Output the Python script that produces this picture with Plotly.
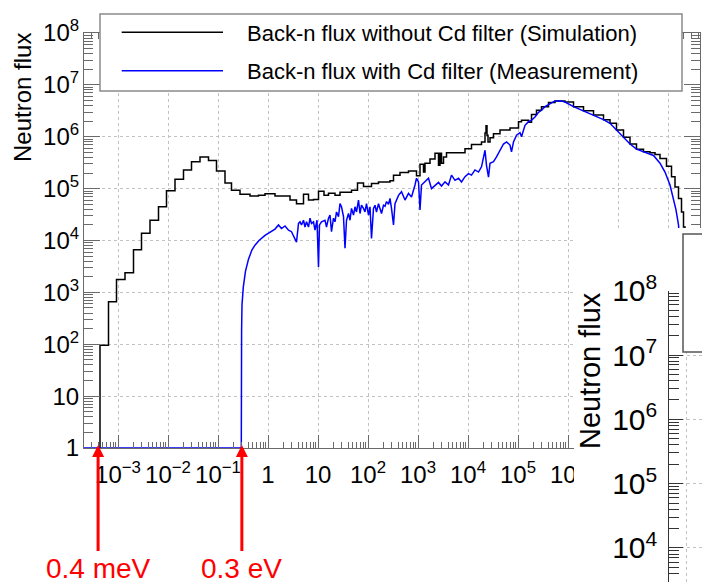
import numpy as np
import plotly.graph_objects as go

W, H = 702, 582
FONT = "Liberation Sans, Arial, Helvetica, sans-serif"

# ---------------- data (values in decades) ----------------
# Simulation histogram, without Cd filter: (log10 E[eV] of bin left edge, log10 flux)
sim_points = [
    (-3.36, 0.00), (-3.36, 1.98), (-3.19, 2.82), (-3.03, 3.25), (-2.86, 3.38), (-2.69, 3.82),
    (-2.53, 4.14), (-2.36, 4.39), (-2.19, 4.65), (-2.03, 4.96), (-1.86, 5.18), (-1.69, 5.36),
    (-1.53, 5.52), (-1.36, 5.61), (-1.19, 5.54), (-1.03, 5.34), (-0.86, 5.11), (-0.73, 4.97),
    (-0.56, 4.89), (-0.36, 4.86), (-0.19, 4.87), (-0.06, 4.90), (0.14, 4.86), (0.44, 4.78),
    (0.57, 4.71), (0.71, 4.89), (0.81, 4.78), (0.91, 4.79), (1.01, 4.95), (1.12, 4.87),
    (1.21, 4.91), (1.34, 4.87), (1.44, 4.93), (1.67, 4.97), (1.79, 5.11), (1.91, 5.04),
    (2.07, 5.10), (2.21, 5.13), (2.44, 5.15), (2.51, 5.26), (2.64, 5.31), (2.81, 5.34),
    (2.97, 5.25), (3.04, 5.47), (3.11, 5.32), (3.14, 5.49), (3.24, 5.57), (3.34, 5.68),
    (3.41, 5.45), (3.44, 5.68), (3.47, 5.49), (3.51, 5.61), (3.57, 5.69), (3.94, 5.77),
    (4.07, 5.85), (4.27, 5.90), (4.34, 6.07), (4.36, 6.21), (4.38, 6.03), (4.40, 5.90),
    (4.44, 5.98), (4.51, 6.06), (4.64, 6.13), (4.84, 6.17), (5.01, 6.29), (5.07, 6.32),
    (5.21, 6.28), (5.27, 6.43), (5.37, 6.51), (5.47, 6.58), (5.61, 6.66), (5.74, 6.69),
    (5.94, 6.67), (6.11, 6.58), (6.31, 6.50), (6.51, 6.42), (6.71, 6.33), (6.84, 6.26),
    (6.97, 6.13), (7.11, 5.99), (7.24, 5.86), (7.37, 5.76), (7.51, 5.71), (7.64, 5.69),
    (7.74, 5.66), (7.84, 5.58), (7.97, 5.43), (8.07, 5.23), (8.14, 5.03), (8.21, 4.81),
    (8.27, 4.55), (8.31, 4.26), (8.34, 3.82), (8.38, 2.85),
]

# Measurement with Cd filter: (log10 E[eV], log10 flux)
meas_points = [
    (-3.68, 0.00), (-0.534, 0.00), (-0.528, 2.27), (-0.52, 2.76), (-0.494, 3.10), (-0.45, 3.41),
    (-0.39, 3.64), (-0.32, 3.82), (-0.26, 3.91), (-0.18, 4.00), (-0.06, 4.10), (0.04, 4.16),
    (0.14, 4.22), (0.21, 4.30), (0.27, 4.23), (0.34, 4.28), (0.41, 4.20), (0.47, 4.17),
    (0.54, 4.04), (0.57, 3.97), (0.61, 4.33), (0.64, 4.36), (0.67, 4.30), (0.71, 4.39),
    (0.74, 4.26), (0.77, 4.36), (0.81, 4.26), (0.84, 4.43), (0.87, 4.33), (0.91, 4.36),
    (0.94, 4.20), (0.98, 4.39), (1.01, 3.49), (1.03, 4.30), (1.07, 4.36), (1.14, 4.39),
    (1.17, 4.26), (1.21, 4.43), (1.24, 4.49), (1.27, 4.17), (1.31, 4.43), (1.34, 4.36),
    (1.37, 4.55), (1.41, 4.46), (1.44, 4.71), (1.47, 4.65), (1.51, 4.46), (1.54, 3.85),
    (1.57, 4.39), (1.61, 4.52), (1.64, 4.39), (1.67, 4.62), (1.71, 4.49), (1.74, 4.65),
    (1.77, 4.55), (1.81, 4.78), (1.84, 4.52), (1.87, 4.68), (1.91, 4.62), (1.94, 4.55),
    (1.97, 4.71), (2.01, 4.49), (2.04, 4.65), (2.07, 4.04), (2.11, 4.62), (2.14, 4.68),
    (2.17, 4.55), (2.21, 4.71), (2.27, 4.52), (2.31, 4.68), (2.34, 4.66), (2.37, 4.75),
    (2.41, 4.70), (2.44, 4.81), (2.47, 4.62), (2.51, 4.30), (2.54, 4.71), (2.61, 4.87),
    (2.67, 4.94), (2.74, 4.78), (2.81, 4.91), (2.87, 4.84), (2.94, 5.07), (2.97, 5.20),
    (3.01, 5.13), (3.04, 4.59), (3.07, 5.07), (3.14, 5.13), (3.21, 5.20), (3.27, 5.00),
    (3.34, 5.07), (3.41, 5.12), (3.47, 5.05), (3.54, 5.13), (3.61, 5.07), (3.67, 5.26),
    (3.74, 5.16), (3.81, 5.20), (3.87, 5.13), (3.94, 5.23), (4.01, 5.29), (4.07, 5.26),
    (4.14, 5.36), (4.21, 5.32), (4.27, 5.42), (4.31, 5.59), (4.34, 5.74), (4.37, 5.45),
    (4.41, 5.22), (4.44, 5.49), (4.51, 5.52), (4.57, 5.61), (4.64, 5.74), (4.71, 5.86),
    (4.77, 5.90), (4.84, 5.84), (4.87, 5.71), (4.91, 5.90), (4.97, 6.03), (5.04, 6.08),
    (5.07, 6.00), (5.14, 6.22), (5.21, 6.29), (5.27, 6.32), (5.34, 6.38), (5.41, 6.47),
    (5.47, 6.51), (5.54, 6.58), (5.61, 6.62), (5.67, 6.66), (5.74, 6.69), (5.87, 6.69),
    (5.94, 6.67), (6.11, 6.58), (6.31, 6.50), (6.51, 6.42), (6.71, 6.33), (6.84, 6.26),
    (6.97, 6.13), (7.11, 5.99), (7.24, 5.86), (7.37, 5.76), (7.51, 5.71), (7.64, 5.67),
    (7.71, 5.64), (7.84, 5.49), (7.94, 5.32), (8.04, 5.07), (8.11, 4.81), (8.16, 4.59),
    (8.21, 4.30), (8.24, 3.91), (8.28, 3.04),
]

arrow_energies_eV = [4e-4, 0.3]
arrow_labels = ["0.4 meV", "0.3 eV"]
legend_labels = ["Back-n flux without Cd filter (Simulation)",
                 "Back-n flux with Cd filter (Measurement)"]
y_title = "Neutron flux"

# ---------------- helpers ----------------
def fx(p):
    return p / W


def fy(p):
    return 1 - p / H


AX = "#6a6a6a"
GRID = "#c2c2c2"

sim_e = 10 ** np.array([p[0] for p in sim_points])
sim_f = 10 ** np.array([p[1] for p in sim_points])
meas_e = 10 ** np.array([p[0] for p in meas_points])
meas_f = 10 ** np.array([p[1] for p in meas_points])

fig = go.Figure()
fig.add_trace(go.Scatter(x=sim_e, y=sim_f, mode="lines",
                         line=dict(color="#000000", width=1.5, shape="hv"),
                         xaxis="x", yaxis="y", showlegend=False, hoverinfo="skip"))
fig.add_trace(go.Scatter(x=meas_e, y=meas_f, mode="lines",
                         line=dict(color="#0000ff", width=1.5),
                         xaxis="x", yaxis="y", showlegend=False, hoverinfo="skip"))
# white cover of the overlapping second figure
fig.add_trace(go.Scatter(x=[-1, 2, 2, -1, -1], y=[-1, -1, 2, 2, -1], mode="lines",
                         fill="toself", fillcolor="#ffffff", line=dict(width=0, color="#ffffff"),
                         xaxis="x2", yaxis="y2", showlegend=False, hoverinfo="skip"))
# anchor trace for the second figure's axes
fig.add_trace(go.Scatter(x=[], y=[], mode="lines", xaxis="x3", yaxis="y3",
                         showlegend=False, hoverinfo="skip"))

tickfont_main = dict(family=FONT, size=19.2, color="#000000")

fig.update_layout(
    template="none",
    width=W, height=H, autosize=False,
    margin=dict(l=0, r=0, t=0, b=0, pad=0),
    paper_bgcolor="#ffffff", plot_bgcolor="#ffffff",
    font=dict(family=FONT, color="#000000"),
    showlegend=False,
    xaxis=dict(type="log", range=[-3.68, 8.64], domain=[fx(84), fx(700)], anchor="y",
               automargin=False,
               showline=True, linecolor=AX, linewidth=1, mirror="ticks",
               ticks="inside", ticklen=13, tickwidth=1, tickcolor=AX, dtick=1,
               exponentformat="power", tickfont=tickfont_main, ticklabelstandoff=6,
               showgrid=True, gridcolor=GRID, gridwidth=1, griddash="dot",
               minor=dict(ticks="inside", ticklen=6, tickwidth=1, tickcolor=AX,
                          showgrid=False, dtick="D1"),
               zeroline=False, fixedrange=True),
    yaxis=dict(type="log", range=[0, 8], domain=[fy(448), fy(33)], anchor="x",
               automargin=False,
               showline=True, linecolor=AX, linewidth=1, mirror="ticks",
               ticks="inside", ticklen=16, tickwidth=1, tickcolor=AX, dtick=1,
               exponentformat="power", tickfont=tickfont_main, ticklabelstandoff=0,
               showgrid=True, gridcolor=GRID, gridwidth=1, griddash="dot",
               minor=dict(ticks="inside", ticklen=9, tickwidth=1, tickcolor=AX,
                          showgrid=False, dtick="D1"),
               zeroline=False, fixedrange=True),
    xaxis2=dict(domain=[fx(574), 1], range=[0, 1], anchor="y2", visible=False,
                automargin=False, fixedrange=True),
    yaxis2=dict(domain=[0, fy(228)], range=[0, 1], anchor="x2", visible=False,
                automargin=False, fixedrange=True),
    xaxis3=dict(domain=[fx(669), 1], range=[0, 1], anchor="y3", showline=False, ticks="",
                automargin=False,
                showticklabels=False, showgrid=True, tickvals=[0.545], gridcolor=GRID,
                griddash="dot", zeroline=False, fixedrange=True),
    yaxis3=dict(type="log", range=[3.471, 8], domain=[0, fy(290.7)], anchor="x3",
                automargin=False,
                showline=True, linecolor="#333333", linewidth=1,
                ticks="inside", ticklen=14, tickwidth=1, tickcolor="#333333", dtick=1,
                exponentformat="power", tickfont=dict(family=FONT, size=24, color="#000000"),
                ticklabelstandoff=6,
                showgrid=True, gridcolor=GRID, gridwidth=1, griddash="dot",
                minor=dict(ticks="inside", ticklen=10, tickwidth=1, tickcolor="#333333",
                           showgrid=False, dtick="D1"),
                zeroline=False, fixedrange=True),
)

shapes = [
    dict(type="rect", xref="paper", yref="paper", x0=fx(100), x1=fx(682), y0=fy(91), y1=fy(14),
         fillcolor="#ffffff", line=dict(color="#8a8a8a", width=1.5), layer="above"),
    dict(type="line", xref="paper", yref="paper", x0=fx(121.7), x1=fx(223), y0=fy(32.3), y1=fy(32.3),
         line=dict(color="#000000", width=1.5), layer="above"),
    dict(type="line", xref="paper", yref="paper", x0=fx(121.7), x1=fx(223), y0=fy(70.7), y1=fy(70.7),
         line=dict(color="#0000ff", width=1.5), layer="above"),
    dict(type="rect", xref="paper", yref="paper", x0=fx(683), x1=1.05, y0=fy(352), y1=fy(234),
         fillcolor="#ffffff", line=dict(color="#555555", width=1.5), layer="above"),
]
fig.update_layout(shapes=shapes)

annotations = []
for i, lab in enumerate(legend_labels):
    annotations.append(dict(x=fx(245), y=fy([33, 71][i]), xref="paper", yref="paper",
                            text=lab, showarrow=False, xanchor="left", yanchor="middle",
                            font=dict(family=FONT, size=22, color="#000000")))
annotations.append(dict(x=fx(22), y=fy(98), xref="paper", yref="paper", text=y_title,
                        textangle=-90, showarrow=False, xanchor="center", yanchor="middle",
                        font=dict(family=FONT, size=24, color="#000000")))
annotations.append(dict(x=fx(590), y=fy(371), xref="paper", yref="paper", text=y_title,
                        textangle=-90, showarrow=False, xanchor="center", yanchor="middle",
                        font=dict(family=FONT, size=29, color="#000000")))
for e, lab in zip(arrow_energies_eV, arrow_labels):
    annotations.append(dict(x=float(np.log10(e)), xref="x", y=fy(445), yref="paper",
                            text=lab, showarrow=True, arrowhead=2, arrowsize=0.8,
                            arrowwidth=3, arrowcolor="#ff0000", ax=0, ay=123,
                            font=dict(family=FONT, size=28, color="#ff0000")))
fig.update_layout(annotations=annotations)

fig.write_html("out.html")
